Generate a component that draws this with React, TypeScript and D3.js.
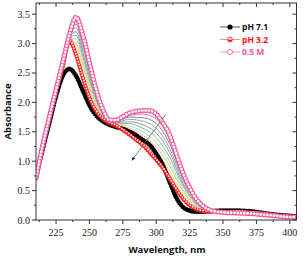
import * as d3 from "d3";

const W = 305;
const H = 260;
const M = { left: 36, right: 8, top: 3, bottom: 40 };

// wavelength grid (nm) for the three labelled spectra
const nm = [210, 215, 220, 225, 230, 235, 240, 245, 250, 255, 260, 265, 270, 275, 280, 285, 290, 295, 300, 305, 310, 315, 320, 325, 330, 335, 340, 350, 360, 370, 380, 390, 400, 405];
const ph71 = [0.72, 1.2, 1.65, 2.1, 2.45, 2.57, 2.45, 2.2, 1.95, 1.78, 1.68, 1.62, 1.58, 1.55, 1.5, 1.44, 1.36, 1.28, 1.13, 0.93, 0.65, 0.38, 0.22, 0.16, 0.14, 0.14, 0.15, 0.16, 0.16, 0.15, 0.12, 0.09, 0.07, 0.06];
const ph32 = [0.72, 1.27, 1.75, 2.2, 2.6, 3.05, 2.8, 2.42, 2.08, 1.85, 1.72, 1.65, 1.6, 1.53, 1.45, 1.36, 1.27, 1.15, 1.02, 0.88, 0.7, 0.52, 0.36, 0.25, 0.18, 0.15, 0.14, 0.14, 0.14, 0.13, 0.11, 0.08, 0.06, 0.05];
const m05 = [0.72, 1.27, 1.75, 2.22, 2.68, 3.15, 3.45, 3.15, 2.68, 2.22, 1.88, 1.7, 1.7, 1.76, 1.82, 1.85, 1.86, 1.86, 1.8, 1.65, 1.45, 1.12, 0.8, 0.55, 0.36, 0.24, 0.17, 0.13, 0.12, 0.11, 0.09, 0.07, 0.05, 0.05];

// intermediate titration spectra (thin lines)
const nmMid = [210, 220, 230, 235, 240, 245, 250, 255, 260, 265, 270, 280, 290, 300, 310, 320, 330, 340, 360, 380, 405];
const mid1 = [0.72, 1.75, 2.61, 3.06, 2.87, 2.49, 2.14, 1.89, 1.74, 1.66, 1.61, 1.49, 1.32, 1.09, 0.77, 0.4, 0.2, 0.14, 0.14, 0.11, 0.05];
const mid2 = [0.72, 1.75, 2.62, 3.08, 2.94, 2.57, 2.2, 1.92, 1.75, 1.66, 1.62, 1.53, 1.38, 1.16, 0.84, 0.44, 0.22, 0.15, 0.14, 0.11, 0.05];
const mid3 = [0.72, 1.75, 2.62, 3.09, 3.01, 2.64, 2.26, 1.96, 1.77, 1.67, 1.63, 1.56, 1.44, 1.24, 0.92, 0.49, 0.23, 0.15, 0.13, 0.1, 0.05];
const mid4 = [0.72, 1.75, 2.63, 3.1, 3.07, 2.72, 2.32, 2.0, 1.78, 1.67, 1.64, 1.6, 1.5, 1.32, 0.99, 0.53, 0.25, 0.15, 0.13, 0.1, 0.05];
const mid5 = [0.72, 1.75, 2.64, 3.11, 3.14, 2.79, 2.38, 2.04, 1.8, 1.68, 1.65, 1.64, 1.56, 1.4, 1.07, 0.58, 0.27, 0.16, 0.13, 0.1, 0.05];
const mid6 = [0.72, 1.75, 2.65, 3.12, 3.2, 2.86, 2.44, 2.07, 1.82, 1.68, 1.66, 1.67, 1.62, 1.48, 1.15, 0.62, 0.29, 0.16, 0.13, 0.1, 0.05];
const mid7 = [0.72, 1.75, 2.66, 3.13, 3.27, 2.93, 2.5, 2.11, 1.83, 1.69, 1.67, 1.71, 1.68, 1.56, 1.22, 0.67, 0.31, 0.16, 0.13, 0.1, 0.05];
const mid8 = [0.72, 1.75, 2.66, 3.14, 3.33, 3.0, 2.56, 2.15, 1.85, 1.69, 1.68, 1.75, 1.74, 1.64, 1.3, 0.71, 0.32, 0.16, 0.12, 0.09, 0.05];
const mid9 = [0.72, 1.75, 2.67, 3.15, 3.39, 3.08, 2.62, 2.18, 1.86, 1.7, 1.69, 1.78, 1.8, 1.72, 1.38, 0.76, 0.34, 0.17, 0.12, 0.09, 0.05];
const midSeries = [mid1, mid2, mid3, mid4, mid5, mid6, mid7, mid8, mid9];
const midColors = ["#f08080", "#e8e070", "#f0b880", "#a8d8a0", "#60b0b0", "#70a070", "#9090c8", "#707090", "#c070c0"];

const xTicks = [225, 250, 275, 300, 325, 350, 375, 400];
const yTicks = [0, 0.5, 1, 1.5, 2, 2.5, 3, 3.5];
const legendLabels = ["pH 7.1", "pH 3.2", "0.5 M"];

// arrow (nm, absorbance): from tail to head
const arrowFrom = [307, 1.79];
const arrowTo = [282, 1.02];

export default function App() {
  const x = d3.scaleLinear().domain([210, 405]).range([M.left, W - M.right - 0.5]);
  const y = d3.scaleLinear().domain([0, 3.69]).range([H - M.bottom, M.top]);
  const x0 = M.left;
  const x1 = W - M.right - 0.5;
  const y0 = H - M.bottom;
  const y1 = M.top;

  const mk = (xs: number[]) =>
    d3
      .line<number>()
      .x((_, i) => x(xs[i]))
      .y((d) => y(d))
      .curve(d3.curveMonotoneX);
  const line = mk(nm);
  const lineMid = mk(nmMid);

  const xMinor = d3.range(212.5, 405, 12.5).filter((v) => !xTicks.includes(v));
  const yMinor = d3.range(0.25, 3.69, 0.5);

  const pinkC = "#f4589c";
  const tickFont = "'Liberation Serif', serif";
  const labFont = "'Open Sans', sans-serif";

  return (
    <svg width={W} height={H} style={{ position: "absolute", left: 0, top: 0 }}>
      <defs>
        <marker id="ah" viewBox="0 0 10 10" refX="8" refY="5" markerWidth="5" markerHeight="5" orient="auto">
          <path d="M0,1 L10,5 L0,9 Z" fill="#222" />
        </marker>
        <clipPath id="clip">
          <rect x={x0} y={y1} width={x1 - x0} height={y0 - y1} />
        </clipPath>
      </defs>

      <g clipPath="url(#clip)">
        {midSeries.map((s, i) => (
          <path key={i} d={lineMid(s) ?? ""} fill="none" stroke={midColors[i]} strokeWidth={0.9} />
        ))}
        {/* pH 7.1: filled black circles */}
        <path d={line(ph71) ?? ""} fill="none" stroke="#000" strokeWidth={1} />
        <path d={line(ph71) ?? ""} fill="none" stroke="#000" strokeWidth={4.6} strokeLinecap="round" strokeDasharray="0 2.4" />
        {/* pH 3.2: half-filled red circles */}
        <path d={line(ph32) ?? ""} fill="none" stroke="#ff2020" strokeWidth={4.2} strokeLinecap="round" strokeDasharray="0 2.8" />
        <path d={line(ph32) ?? ""} fill="none" stroke="#fff" strokeWidth={1.8} strokeLinecap="round" strokeDasharray="0 2.8" transform="translate(0,-0.8)" />
        {/* 0.5 M: open pink circles */}
        <path d={line(m05) ?? ""} fill="none" stroke={pinkC} strokeWidth={5.2} strokeLinecap="round" strokeDasharray="0 3.3" />
        <path d={line(m05) ?? ""} fill="none" stroke="#fff" strokeWidth={2.8} strokeLinecap="round" strokeDasharray="0 3.3" />
      </g>

      <line
        x1={x(arrowFrom[0])}
        y1={y(arrowFrom[1])}
        x2={x(arrowTo[0])}
        y2={y(arrowTo[1])}
        stroke="#666"
        strokeWidth={0.8}
        markerEnd="url(#ah)"
      />

      {/* frame */}
      <rect x={x0} y={y1} width={x1 - x0} height={y0 - y1} fill="none" stroke="#333" strokeWidth={1} />

      {/* x ticks: outward bottom, inward top */}
      {xTicks.map((t) => (
        <g key={t}>
          <line x1={x(t)} x2={x(t)} y1={y0} y2={y0 + 4} stroke="#333" />
          <line x1={x(t)} x2={x(t)} y1={y1} y2={y1 + 4} stroke="#333" />
          <text x={x(t)} y={y0 + 16} textAnchor="middle" fontFamily={tickFont} fontSize={10} fill="#222">
            {t}
          </text>
        </g>
      ))}
      {xMinor.map((t) => (
        <g key={"m" + t}>
          <line x1={x(t)} x2={x(t)} y1={y0} y2={y0 + 2} stroke="#333" />
          <line x1={x(t)} x2={x(t)} y1={y1} y2={y1 + 2} stroke="#333" />
        </g>
      ))}

      {/* y ticks: outward left, inward right */}
      {yTicks.map((t) => (
        <g key={t}>
          <line x1={x0 - 4} x2={x0} y1={y(t)} y2={y(t)} stroke="#333" />
          <line x1={x1 - 4} x2={x1} y1={y(t)} y2={y(t)} stroke="#333" />
          <text x={x0 - 6} y={y(t) + 3.5} textAnchor="end" fontFamily={tickFont} fontSize={10} fill="#222">
            {d3.format(".1f")(t)}
          </text>
        </g>
      ))}
      {yMinor.map((t) => (
        <g key={"m" + t}>
          <line x1={x0 - 2} x2={x0} y1={y(t)} y2={y(t)} stroke="#333" />
          <line x1={x1 - 2} x2={x1} y1={y(t)} y2={y(t)} stroke="#333" />
        </g>
      ))}

      <text
        transform={`translate(11,${(y0 + y1) / 2}) rotate(-90)`}
        textAnchor="middle"
        fontFamily={labFont}
        fontWeight="bold"
        fontSize={9.5}
        fill="#111"
      >
        Absorbance
      </text>
      <text x={167} y={253} textAnchor="middle" fontFamily={labFont} fontWeight="bold" fontSize={9.5} fill="#111">
        Wavelength, nm
      </text>

      {/* legend */}
      <g fontFamily={labFont} fontWeight="bold" fontSize={8.5}>
        {legendLabels.map((lab, i) => {
          const ly = 27 + i * 12.5;
          const lineC = ["#555", "#ff9090", "#ff9cc8"][i];
          const txtC = ["#111", "#ff1010", pinkC][i];
          return (
            <g key={lab}>
              <line x1={220} x2={240} y1={ly} y2={ly} stroke={lineC} strokeWidth={1} />
              {i === 0 && <circle cx={230} cy={ly} r={2.6} fill="#000" />}
              {i === 1 && (
                <g>
                  <circle cx={230} cy={ly} r={2.4} fill="#fff" stroke="#ff2020" strokeWidth={0.9} />
                  <path d={`M${230 - 2.4},${ly} A2.4,2.4 0 0 0 ${230 + 2.4},${ly} Z`} fill="#ff2020" />
                </g>
              )}
              {i === 2 && <circle cx={230} cy={ly} r={2.5} fill="#fff" stroke={pinkC} strokeWidth={0.9} />}
              <text x={242} y={ly + 3} fill={txtC}>
                {lab}
              </text>
            </g>
          );
        })}
      </g>
    </svg>
  );
}
